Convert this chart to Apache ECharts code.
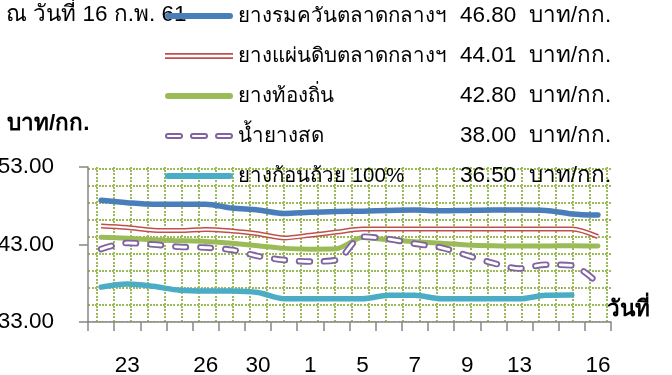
<!DOCTYPE html>
<html>
<head>
<meta charset="utf-8">
<script src="https://cdn.jsdelivr.net/npm/echarts@6/dist/echarts.min.js"></script>
<style>
  html, body { margin: 0; padding: 0; background: #ffffff; }
  #chart { width: 672px; height: 375px; }
</style>
</head>
<body>
<div id="chart"></div>
<script>
// Trading days (Jan 22 – Feb 16) and the ones that carry a label
const dates = ['22','23','24','25','26','29','30','31','1','2','5','6','7','8','9','12','13','14','15','16'];
const shownDates = ['23','26','30','1','5','7','9','13','16'];
const yTicks = [33, 43, 53];

const seriesNames = ['ยางรมควันตลาดกลางฯ', 'ยางแผ่นดิบตลาดกลางฯ', 'ยางท้องถิ่น', 'น้ำยางสด', 'ยางก้อนถ้วย 100%'];

// Prices, baht per kg
const smokedSheet = [48.7, 48.4, 48.2, 48.2, 48.2, 47.7, 47.45, 47.0, 47.15, 47.25, 47.3, 47.4, 47.45, 47.35, 47.4, 47.45, 47.45, 47.4, 46.95, 46.80];
const rawSheet    = [45.4, 45.2, 44.85, 44.8, 44.95, 44.75, 44.4, 43.85, 44.2, 44.6, 45.0, 45.0, 45.0, 45.0, 45.0, 45.0, 45.0, 45.0, 45.0, 44.01];
const localSheet  = [43.95, 43.8, 43.6, 43.5, 43.4, 43.15, 42.85, 42.5, 42.4, 42.45, 43.9, 43.6, 43.35, 43.15, 42.95, 42.85, 42.8, 42.8, 42.85, 42.80];
const freshLatex  = [42.4, 43.2, 43.0, 42.7, 42.6, 42.3, 41.5, 41.0, 40.8, 41.0, 44.0, 43.7, 43.1, 42.6, 41.6, 40.6, 39.9, 40.4, 40.3, 38.00];
const cupLump     = [37.5, 37.9, 37.6, 37.1, 37.0, 37.0, 36.8, 36.0, 36.0, 36.0, 36.0, 36.45, 36.45, 36.0, 36.0, 36.0, 36.0, 36.45, 36.50, null];

const seriesData = [smokedSheet, rawSheet, localSheet, freshLatex, cupLump];

const FONT = 'Tahoma, "Liberation Sans", Arial, sans-serif';
const FS = 22.5;        // numbers, title, axis text
const FS_NAME = 20.5;   // series names in the legend
const AXIS_GREY = '#868686';
const C_BLUE = '#4a7ebb', C_RED = '#c0504d', C_GREEN = '#9bbb59', C_PURPLE = '#8064a2', C_CYAN = '#4bacc6';

function lastValue(arr) {
  for (let i = arr.length - 1; i >= 0; i--) if (arr[i] != null) return arr[i];
  return null;
}

// Dotted green grid used as the plot-area fill
function dottedTile() {
  const c = document.createElement('canvas');
  c.width = 17; c.height = 17;
  const g = c.getContext('2d');
  g.fillStyle = '#9bbb59';
  [0, 3, 7, 10, 14].forEach(s => {
    g.fillRect(s, 15, 2, 2);
    g.fillRect(11, s, 2, 2);
  });
  return c;
}

// Legend glyphs
const ICON_SOLID = 'path://M3,0H65A3,3,0,0,1,65,6H3A3,3,0,0,1,3,0Z';
const ICON_DOUBLE = 'path://M0,0H68V1.8H0Z M0,4.2H68V6H0Z';
function ring(x0) {
  return `M${x0 + 3},0H${x0 + 15}A3,3,0,0,1,${x0 + 15},6H${x0 + 3}A3,3,0,0,1,${x0 + 3},0Z ` +
         `M${x0 + 3},2A1,1,0,0,0,${x0 + 3},4H${x0 + 15}A1,1,0,0,0,${x0 + 15},2Z `;
}
const ICON_HOLLOW_DASH = 'path://' + ring(0) + ring(25) + ring(50);

const shownIdx = shownDates.map(d => dates.indexOf(d));

const chart = echarts.init(document.getElementById('chart'), null, { renderer: 'canvas' });

const lineBase = { type: 'line', symbol: 'none', showSymbol: false, smooth: 0.3, connectNulls: false, emphasis: { disabled: true } };

chart.setOption({
  animation: false,
  backgroundColor: '#ffffff',
  textStyle: { fontFamily: FONT },
  title: [
    { text: 'ณ วันที่ 16 ก.พ. 61', left: 6, top: 3, padding: 0,
      textStyle: { fontFamily: FONT, fontSize: FS, fontWeight: 'normal', color: '#000', lineHeight: 24 } },
    { text: 'บาท/กก.', left: 7, top: 112, padding: 0,
      textStyle: { fontFamily: FONT, fontSize: FS, fontWeight: 'bold', color: '#000', lineHeight: 24 } }
  ],
  legend: {
    orient: 'vertical',
    left: 165, top: 4, padding: 0,
    itemGap: 16, itemWidth: 68, itemHeight: 6,
    selectedMode: false,
    z: 10,
    data: [
      { name: seriesNames[0], icon: ICON_SOLID, itemStyle: { color: C_BLUE, borderWidth: 0 } },
      { name: seriesNames[1], icon: ICON_DOUBLE, itemStyle: { color: C_RED, borderWidth: 0 } },
      { name: seriesNames[2], icon: ICON_SOLID, itemStyle: { color: C_GREEN, borderWidth: 0 } },
      { name: seriesNames[3], icon: ICON_HOLLOW_DASH, itemStyle: { color: C_PURPLE, borderWidth: 0 } },
      { name: seriesNames[4], icon: ICON_SOLID, itemStyle: { color: C_CYAN, borderWidth: 0 } }
    ],
    formatter: name => {
      const v = lastValue(seriesData[seriesNames.indexOf(name)]);
      return `{n|${name}}{v|${v.toFixed(2)}  บาท/กก.}`;
    },
    textStyle: {
      fontFamily: FONT, fontSize: FS, color: '#000', lineHeight: 24,
      rich: {
        n: { width: 222, fontFamily: FONT, fontSize: FS_NAME, lineHeight: 24 },
        v: { fontFamily: FONT, fontSize: FS, lineHeight: 24 }
      }
    }
  },
  grid: {
    left: 88, top: 167, width: 523, height: 155,
    show: true,
    borderWidth: 0,
    backgroundColor: { image: dottedTile(), repeat: 'repeat' },
    outerBoundsMode: 'none',
    containLabel: false
  },
  xAxis: {
    type: 'category',
    data: dates,
    boundaryGap: true,
    name: 'วันที่',
    nameLocation: 'end',
    nameGap: -4,
    nameMoveOverlap: false,
    nameTextStyle: { fontFamily: FONT, fontSize: FS, fontWeight: 'bold', color: '#000', verticalAlign: 'bottom', align: 'left', lineHeight: 24 },
    axisLine: { show: true, onZero: false, lineStyle: { color: AXIS_GREY, width: 1.5 } },
    axisTick: { show: true, interval: 0, length: 9, lineStyle: { color: AXIS_GREY, width: 1.5 } },
    axisLabel: {
      interval: (i) => shownIdx.includes(i),
      margin: 32, fontFamily: FONT, fontSize: FS, color: '#000'
    },
    splitLine: { show: false }
  },
  yAxis: {
    type: 'value',
    min: 33, max: 53,
    axisLine: { show: true, lineStyle: { color: AXIS_GREY, width: 1.5 } },
    axisTick: { show: true, length: 9, customValues: yTicks, lineStyle: { color: AXIS_GREY, width: 1.5 } },
    axisLabel: {
      customValues: yTicks,
      margin: 34, fontFamily: FONT, fontSize: FS, color: '#000',
      formatter: v => Number(v).toFixed(2)
    },
    splitLine: { show: false }
  },
  series: [
    Object.assign({}, lineBase, { name: seriesNames[0], data: smokedSheet, z: 6,
      itemStyle: { color: C_BLUE }, lineStyle: { color: C_BLUE, width: 5.5, cap: 'round', join: 'round' } }),
    Object.assign({}, lineBase, { name: seriesNames[1], data: rawSheet, z: 4,
      itemStyle: { color: C_RED }, lineStyle: { color: C_RED, width: 5, join: 'round' } }),
    Object.assign({}, lineBase, { name: 'rawSheetCore', data: rawSheet, z: 4,
      itemStyle: { color: '#ffffff' }, lineStyle: { color: '#ffffff', width: 2, join: 'round' } }),
    Object.assign({}, lineBase, { name: seriesNames[2], data: localSheet, z: 3,
      itemStyle: { color: C_GREEN }, lineStyle: { color: C_GREEN, width: 5, cap: 'round', join: 'round' } }),
    Object.assign({}, lineBase, { name: seriesNames[3], data: freshLatex, z: 5,
      itemStyle: { color: C_PURPLE }, lineStyle: { color: C_PURPLE, width: 6.5, type: [11, 14], cap: 'round', join: 'round' } }),
    Object.assign({}, lineBase, { name: 'freshLatexCore', data: freshLatex, z: 5,
      itemStyle: { color: '#ffffff' }, lineStyle: { color: '#ffffff', width: 2.8, type: [11, 14], cap: 'round', join: 'round' } }),
    Object.assign({}, lineBase, { name: seriesNames[4], data: cupLump, z: 3,
      itemStyle: { color: C_CYAN }, lineStyle: { color: C_CYAN, width: 5.5, cap: 'round', join: 'round' } })
  ]
});
</script>
</body>
</html>
